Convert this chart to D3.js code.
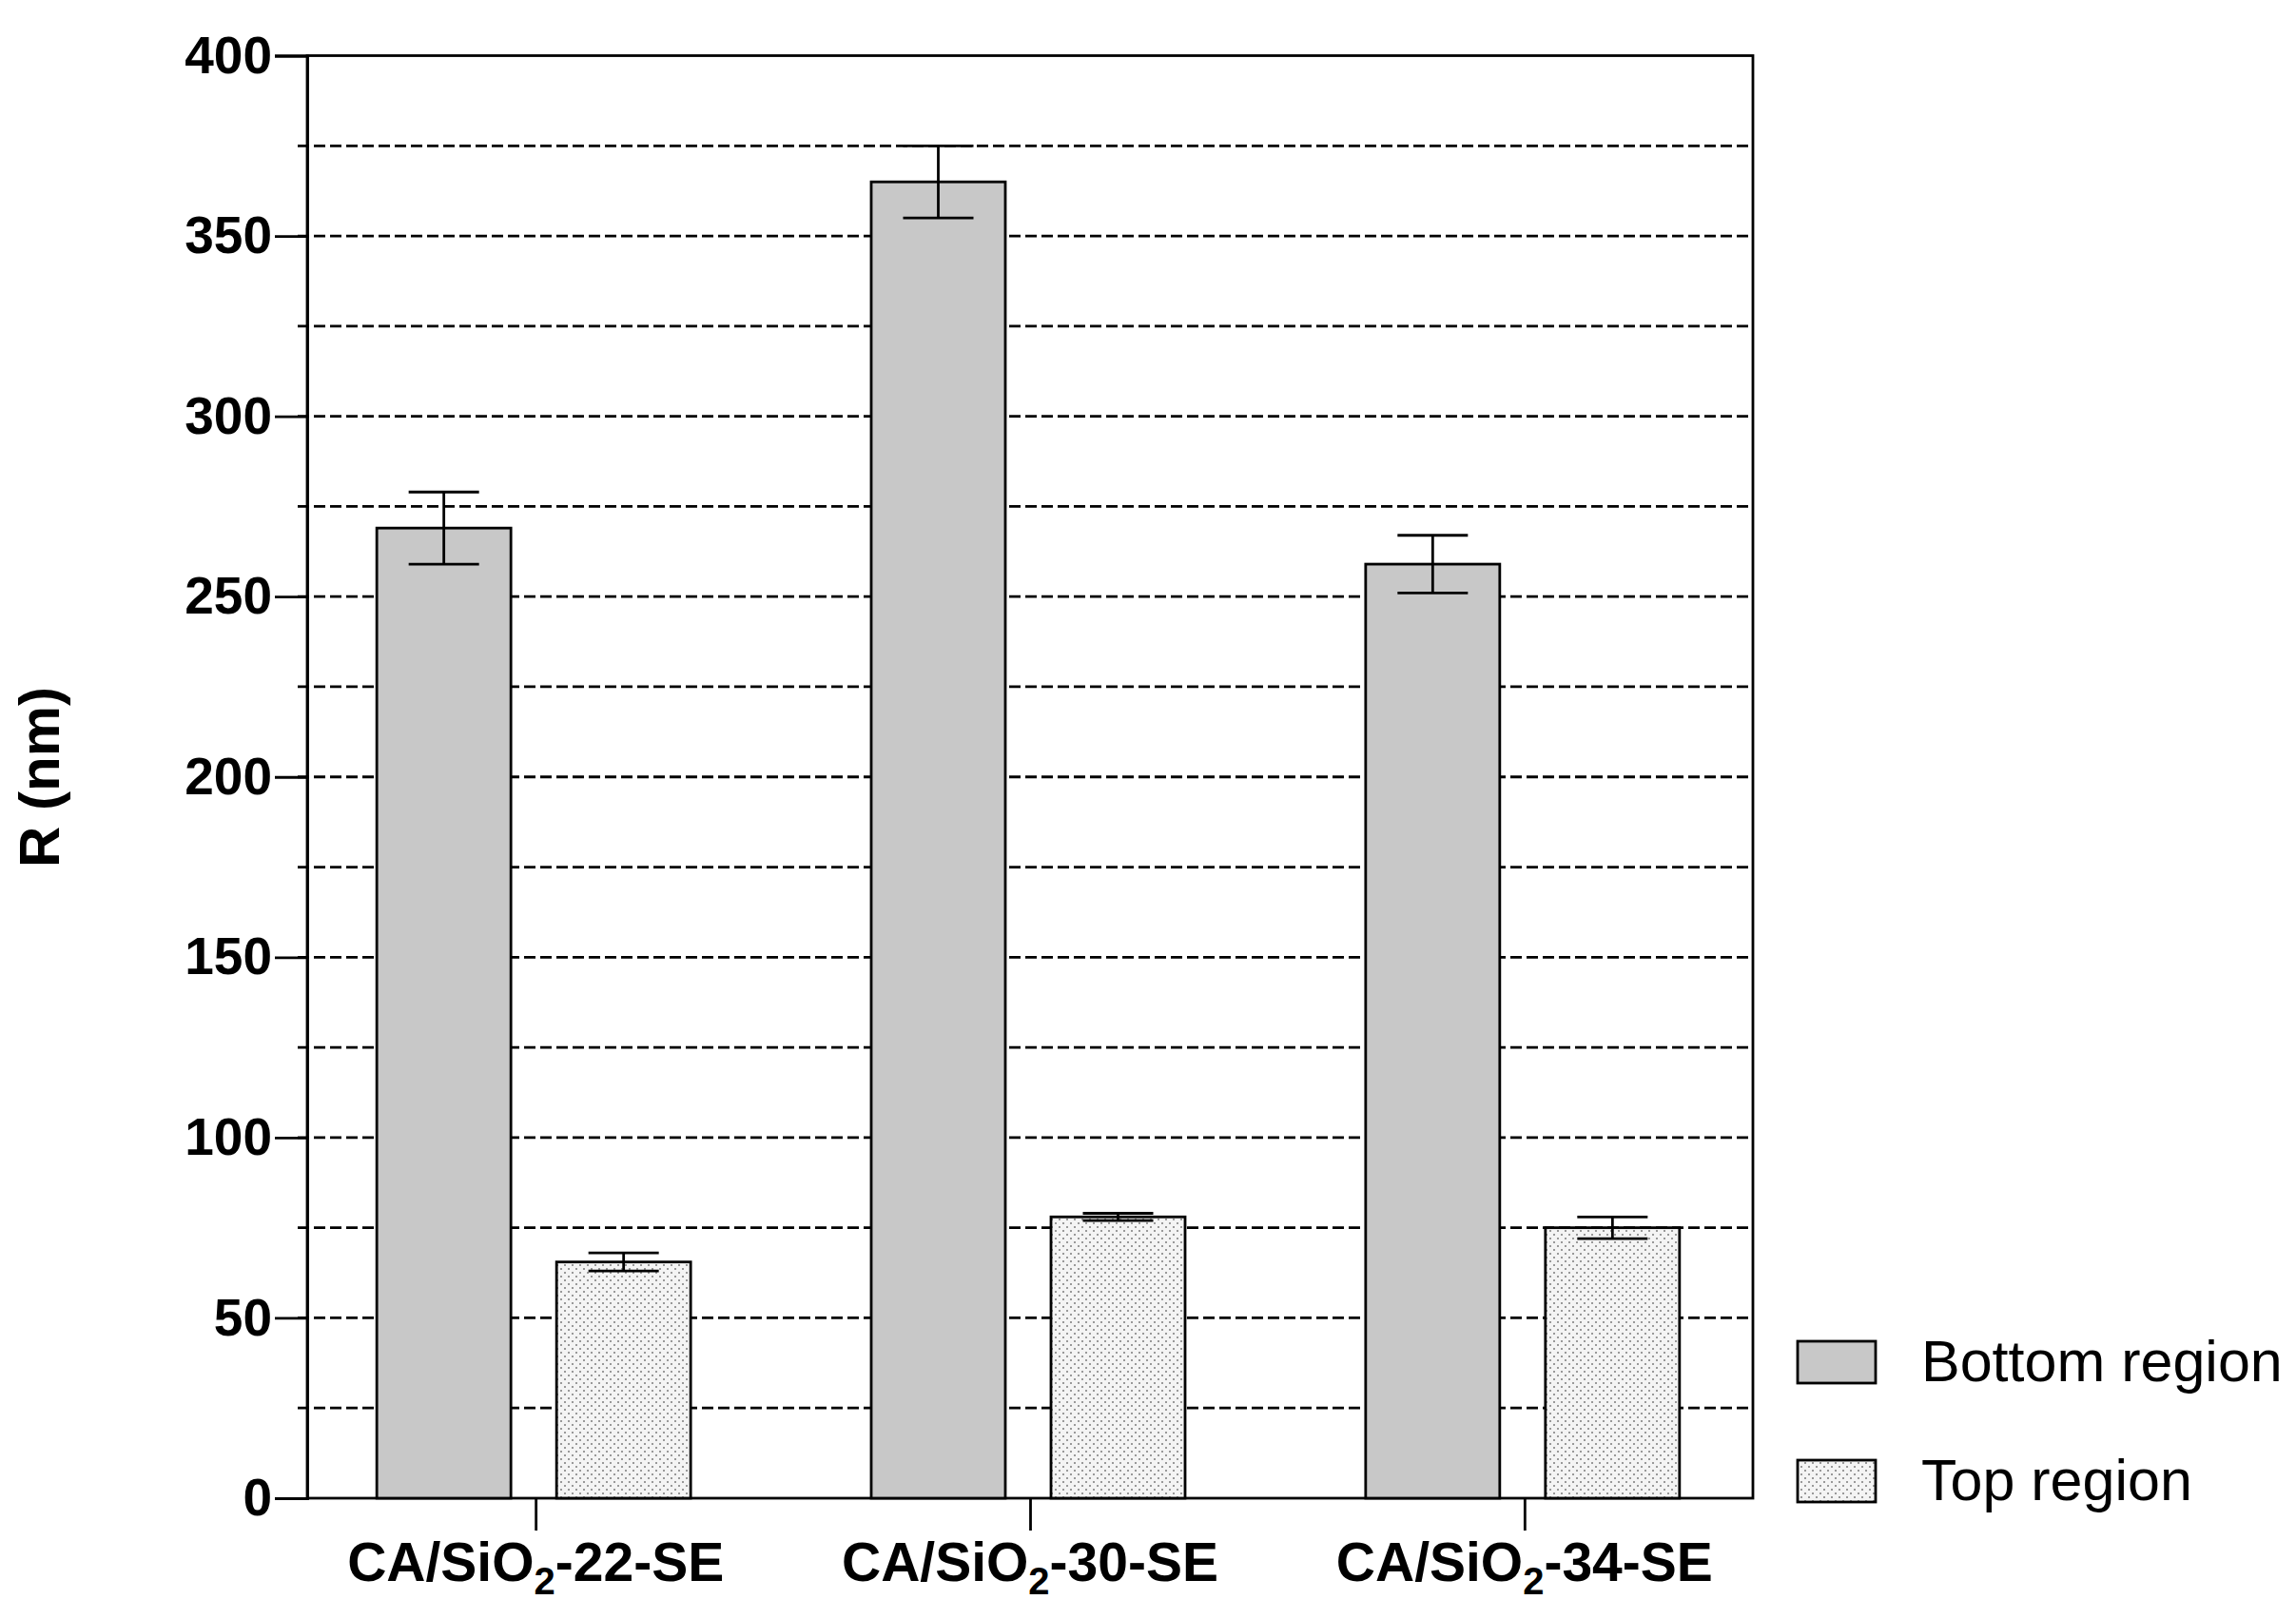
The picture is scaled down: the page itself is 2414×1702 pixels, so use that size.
<!DOCTYPE html>
<html><head><meta charset="utf-8">
<script src="https://cdn.jsdelivr.net/npm/d3@7"></script>
<style>body{margin:0;background:#fff}</style></head>
<body><svg id="c" width="2414" height="1702"></svg>
<script>
const categories = ["22", "30", "34"];
const series = ["Bottom region", "Top region"];
const bottomValues = [269, 365, 259];
const bottomErrors = [10, 10, 8];
const topValues = [65.5, 78, 75];
const topErrors = [2.5, 1, 3];
const yTicks = [0, 50, 100, 150, 200, 250, 300, 350, 400];
const yGrid = [25, 50, 75, 100, 125, 150, 175, 200, 225, 250, 275, 300, 325, 350, 375];

const svg = d3.select("#c");
const L = 323, R = 1843, T = 58.5, B = 1575;
const y = d3.scaleLinear().domain([0, 400]).range([B, T]);
const x = d3.scalePoint().domain(categories).range([L, R]).padding(0.462);
const xs = d3.scaleBand().domain(series).range([-167, 163]).paddingInner(0.254);

const defs = svg.append("defs");
const pat = defs.append("pattern").attr("id", "dots").attr("width", 8).attr("height", 8).attr("patternUnits", "userSpaceOnUse");
pat.append("rect").attr("width", 8).attr("height", 8).attr("fill", "#f4f4f4");
pat.append("rect").attr("x", 1).attr("y", 1).attr("width", 2).attr("height", 2).attr("fill", "#999");
pat.append("rect").attr("x", 5).attr("y", 5).attr("width", 2).attr("height", 2).attr("fill", "#999");

svg.append("g").selectAll("line").data(yGrid).join("line")
  .attr("x1", L - 10).attr("x2", R).attr("y1", d => y(d)).attr("y2", d => y(d))
  .attr("stroke", "#000").attr("stroke-width", 2.8).attr("stroke-dasharray", "12,5");

svg.append("rect").attr("x", L).attr("y", T).attr("width", R - L).attr("height", B - T)
  .attr("fill", "none").attr("stroke", "#000").attr("stroke-width", 2.8);

const ya = svg.append("g").attr("transform", `translate(${L},0)`)
  .call(d3.axisLeft(y).tickValues(yTicks).tickSize(34).tickPadding(3));
ya.select(".domain").attr("stroke-width", 2.8);
ya.selectAll(".tick line").attr("stroke-width", 2.8);
ya.selectAll("text").attr("font-family", "Liberation Sans, Arial").attr("font-weight", "bold").attr("font-size", 55).attr("fill", "#000");

const xa = svg.append("g").attr("transform", `translate(0,${B})`)
  .call(d3.axisBottom(x).tickSize(34).tickFormat(""));
xa.select(".domain").remove();
xa.selectAll(".tick line").attr("stroke-width", 2.8);
const lab = svg.append("g").selectAll("text").data(categories).join("text")
  .attr("x", d => x(d)).attr("y", 1662).attr("text-anchor", "middle")
  .attr("font-family", "Liberation Sans, Arial").attr("font-weight", "bold").attr("font-size", 57);
lab.append("tspan").text("CA/SiO");
lab.append("tspan").attr("font-size", 40).attr("dy", 14).text("2");
lab.append("tspan").attr("dy", -14).text(d => "-" + d + "-SE");

const rows = [];
categories.forEach((c, i) => {
  rows.push({c, s: series[0], v: bottomValues[i], e: bottomErrors[i], fill: "#c8c8c8"});
  rows.push({c, s: series[1], v: topValues[i], e: topErrors[i], fill: "url(#dots)"});
});
const g = svg.append("g");
g.selectAll("rect").data(rows).join("rect")
  .attr("x", d => x(d.c) + xs(d.s)).attr("width", xs.bandwidth())
  .attr("y", d => y(d.v)).attr("height", d => B - y(d.v))
  .attr("fill", d => d.fill).attr("stroke", "#000").attr("stroke-width", 2.8);
const eb = svg.append("g").attr("stroke", "#000").attr("stroke-width", 2.8);
rows.forEach(d => {
  const cx = x(d.c) + xs(d.s) + xs.bandwidth() / 2;
  eb.append("line").attr("x1", cx).attr("x2", cx).attr("y1", y(d.v + d.e)).attr("y2", y(d.v - d.e));
  [d.v + d.e, d.v - d.e].forEach(v => eb.append("line").attr("x1", cx - 37).attr("x2", cx + 37).attr("y1", y(v)).attr("y2", y(v)));
});

svg.append("text").attr("transform", "translate(62,817) rotate(-90)").attr("text-anchor", "middle")
  .attr("font-family", "Liberation Sans, Arial").attr("font-weight", "bold").attr("font-size", 60).text("R (nm)");

const lg = svg.append("g");
series.forEach((s, i) => {
  const yy = 1410 + i * 125;
  lg.append("rect").attr("x", 1890).attr("y", yy).attr("width", 82).attr("height", 44)
    .attr("fill", i === 0 ? "#c8c8c8" : "url(#dots)").attr("stroke", "#000").attr("stroke-width", 2.8);
  lg.append("text").attr("x", 2020).attr("y", yy + 42).attr("font-family", "Liberation Sans, Arial")
    .attr("font-size", 61).text(s);
});
</script></body></html>
